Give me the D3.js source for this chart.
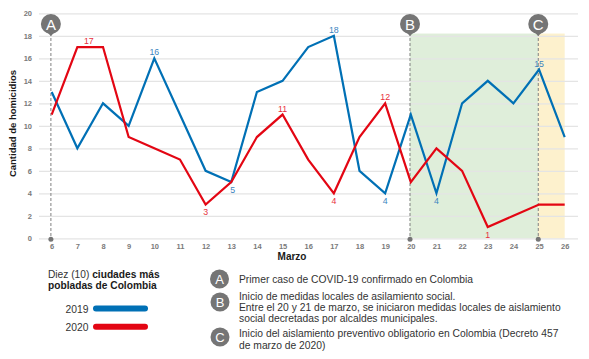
<!DOCTYPE html>
<html>
<head>
<meta charset="utf-8">
<script src="https://cdn.jsdelivr.net/npm/d3@7"></script>
<style>
  html, body { margin: 0; padding: 0; background: #fff; }
  svg { display: block; font-family: "Liberation Sans", Arial, sans-serif; }
</style>
</head>
<body>
<div id="wrapper"></div>
<script>
// Data
const days = [6, 7, 8, 9, 10, 11, 12, 13, 14, 15, 16, 17, 18, 19, 20, 21, 22, 23, 24, 25, 26];
const values2019 = [13, 8, 12, 10, 16, 11, 6, 5, 13, 14, 17, 18, 6, 4, 11, 4, 12, 14, 12, 15, 9];
const values2020 = [11, 17, 17, 9, 8, 7, 3, 5, 9, 11, 7, 4, 9, 12, 5, 8, 6, 1, 2, 3, 3];
const yTicks = [0, 2, 4, 6, 8, 10, 12, 14, 16, 18, 20];
const labels2019 = [[10, 'top'], [13, 'bottom'], [17, 'top'], [19, 'bottom'], [21, 'bottom'], [25, 'top']];
const labels2020 = [[7, 'top'], [12, 'bottom'], [15, 'top'], [17, 'bottom'], [19, 'top'], [23, 'bottom']];
const markers = [['A', 6], ['B', 20], ['C', 25]];

const blue = '#0070b5';
const red = '#e30613';
const blueText = '#3d85c0';
const redText = '#e8303c';

const width = 589;
const height = 359;
const svg = d3.select('#wrapper').append('svg').attr('width', width).attr('height', height);

// Scales
const xScale = d3.scaleLinear().domain([6, 26]).range([51.7, 564.7]);
const yScale = d3.scaleLinear().domain([0, 20]).range([238.3, 13.3]);

// Shaded periods
svg.append('rect')
  .attr('x', xScale(20) - 1).attr('y', yScale(18.2))
  .attr('width', xScale(25) - xScale(20)).attr('height', yScale(0) - yScale(18.2))
  .attr('fill', '#dfeeda');
svg.append('rect')
  .attr('x', xScale(25) - 1).attr('y', yScale(18.2))
  .attr('width', xScale(26) - xScale(25) + 1).attr('height', yScale(0) - yScale(18.2))
  .attr('fill', '#fdf1cd');

// Axes
const yAxis = d3.axisLeft(yScale).tickValues(yTicks).tickSize(0).tickPadding(7);
const yG = svg.append('g').attr('transform', 'translate(39,0)').call(yAxis);
yG.select('.domain').remove();
yG.selectAll('line').attr('x2', 539).attr('stroke', '#e4e4e4').attr('stroke-width', 1.2);
yG.selectAll('text').attr('fill', '#7a7a7a').attr('font-size', 7.5).attr('font-weight', 'bold');

const xAxis = d3.axisBottom(xScale).tickValues(days).tickFormat(d3.format('d')).tickSize(0).tickPadding(0);
const xG = svg.append('g').attr('transform', 'translate(0,244)').call(xAxis);
xG.select('.domain').remove();
xG.selectAll('text').attr('fill', '#7a7a7a').attr('font-size', 7.5).attr('font-weight', 'bold');

svg.append('text').attr('x', 292).attr('y', 260)
  .attr('text-anchor', 'middle').attr('font-size', 10).attr('font-weight', 'bold').attr('fill', '#1a1a1a')
  .text('Marzo');
svg.append('text').attr('transform', 'translate(15.5,123.5) rotate(-90)')
  .attr('text-anchor', 'middle').attr('font-size', 9.5).attr('font-weight', 'bold').attr('fill', '#1a1a1a')
  .text('Cantidad de homicidios');

// Marker lines and pins
const pin = svg.selectAll('.pin').data(markers).enter().append('g').attr('class', 'pin');
pin.append('line')
  .attr('x1', (d) => xScale(d[1]) - 0.8).attr('x2', (d) => xScale(d[1]) - 0.8)
  .attr('y1', 33).attr('y2', yScale(0))
  .attr('stroke', '#808080').attr('stroke-width', 1).attr('stroke-dasharray', '3,2');
pin.append('circle')
  .attr('cx', (d) => xScale(d[1]) - 0.8).attr('cy', yScale(0) + 1).attr('r', 2.5).attr('fill', '#757575');
pin.append('path')
  .attr('d', (d) => { const x = xScale(d[1]) - 0.8; return `M${x - 5},31 L${x},36 L${x + 5},31 Z`; })
  .attr('fill', '#757575');
pin.append('circle')
  .attr('cx', (d) => xScale(d[1]) - 0.8).attr('cy', 24).attr('r', 10).attr('fill', '#757575');
pin.append('text')
  .attr('x', (d) => xScale(d[1]) - 0.8).attr('y', 29.5)
  .attr('text-anchor', 'middle').attr('font-size', 15).attr('fill', '#fff')
  .text((d) => d[0]);

// Lines
const line = d3.line().x((d, i) => xScale(days[i])).y((d) => yScale(d));
svg.append('path').datum(values2019).attr('d', line)
  .attr('fill', 'none').attr('stroke', blue).attr('stroke-width', 2.2);
svg.append('path').datum(values2020).attr('d', line)
  .attr('fill', 'none').attr('stroke', red).attr('stroke-width', 2.2);

// Value labels
function drawLabels(labels, values, color) {
  svg.append('g').selectAll('text').data(labels).enter().append('text')
    .attr('x', (d) => xScale(d[0]))
    // the 17 label sits over the middle of the flat stretch, the 5 a bit to the right
    .attr('dx', (d) => (d[0] === 7 && color === redText ? 11.5 : d[0] === 13 ? 1.5 : 0))
    .attr('y', (d) => yScale(values[days.indexOf(d[0])]) + (d[1] === 'top' ? -3 : 10.5))
    .attr('text-anchor', 'middle').attr('font-size', 8.8).attr('fill', color)
    .text((d) => values[days.indexOf(d[0])]);
}
drawLabels(labels2019, values2019, blueText);
drawLabels(labels2020, values2020, redText);

// Legend
const legendTitle = svg.append('text').attr('x', 48).attr('y', 278).attr('font-size', 10.2).attr('fill', '#333');
legendTitle.append('tspan').text('Diez (10) ');
legendTitle.append('tspan').attr('font-weight', 'bold').attr('fill', '#1a1a1a').text('ciudades más');
svg.append('text').attr('x', 48).attr('y', 289).attr('font-size', 10.2).attr('font-weight', 'bold').attr('fill', '#1a1a1a')
  .text('pobladas de Colombia');

const legendRows = [['2019', blue, 308.5], ['2020', red, 326.7]];
legendRows.forEach((row) => {
  svg.append('text').attr('x', 65.5).attr('y', row[2] + 4).attr('font-size', 10.3).attr('fill', '#333').text(row[0]);
  svg.append('line').attr('x1', 96).attr('x2', 145).attr('y1', row[2]).attr('y2', row[2])
    .attr('stroke', row[1]).attr('stroke-width', 6).attr('stroke-linecap', 'round');
});

// Notes
const notes = [
  ['A', 219.5, 279, [[239, 283, 'Primer caso de COVID-19 confirmado en Colombia']]],
  ['B', 220, 302, [
    [239, 299.5, 'Inicio de medidas locales de asilamiento social.'],
    [239, 311, 'Entre el 20 y 21 de marzo, se iniciaron medidas locales de aislamiento'],
    [239, 322, 'social decretadas por alcaldes municipales.']]],
  ['C', 220, 337, [
    [239, 337, 'Inicio del aislamiento preventivo obligatorio en Colombia (Decreto 457'],
    [239, 348.5, 'de marzo de 2020)']]],
];
notes.forEach((note) => {
  svg.append('circle').attr('cx', note[1]).attr('cy', note[2]).attr('r', 9.5).attr('fill', '#757575');
  svg.append('text').attr('x', note[1]).attr('y', note[2] + 5).attr('text-anchor', 'middle')
    .attr('font-size', 13).attr('fill', '#fff').text(note[0]);
  note[3].forEach((t) => {
    svg.append('text').attr('x', t[0]).attr('y', t[1]).attr('font-size', 10.3).attr('fill', '#333').text(t[2]);
  });
});
</script>
</body>
</html>
